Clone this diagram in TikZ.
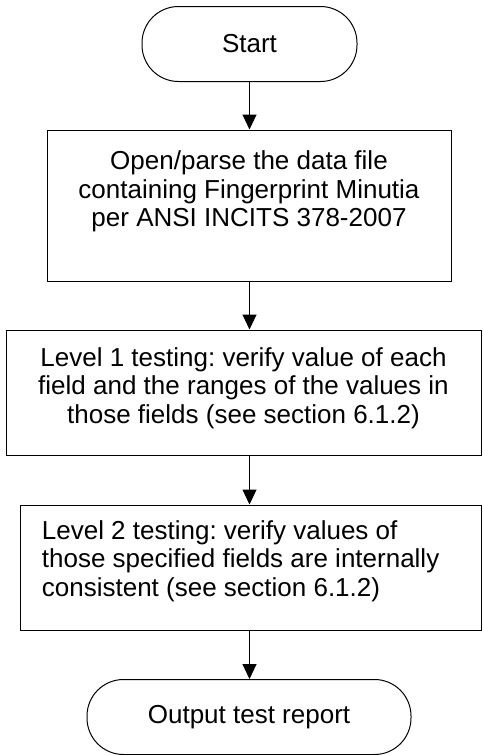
\documentclass[tikz,border=0pt]{standalone}
\usepackage{fontspec}
\setmainfont{Liberation Sans}
\usetikzlibrary{arrows.meta}
\frenchspacing
\begin{document}
\begin{tikzpicture}[x=1pt,y=-1pt,
  box/.style={draw,line width=1pt,inner sep=0pt},
  term/.style={draw,line width=1pt,rounded corners=36.5pt,inner sep=0pt,minimum height=75pt,font=\fontsize{26}{28.3}\selectfont},
  txt/.style={inner sep=0pt,font=\fontsize{26}{28.3}\selectfont},
  arr/.style={line width=1pt,-{Triangle[width=14pt,length=15pt]}}]
\useasboundingbox (0,0) rectangle (482,755);
\node[term,minimum width=215pt] (start) at (249.5,44) {Start};
\node[box,minimum width=404pt,minimum height=151pt] (b1) at (249,205.5) {};
\node[txt,align=center] (t1) at (249,191.5) {Open/parse the data file\\containing Fingerprint Minutia\\per ANSI INCITS 378-2007};
\node[box,minimum width=475pt,minimum height=125pt] (b2) at (243.5,392.5) {};
\node[txt,align=center] (t2) at (243.5,388.2) {Level 1 testing: verify value of each\\field and the ranges of the values in\\those fields (see section 6.1.2)};
\node[box,minimum width=461pt,minimum height=125pt] (b3) at (250.5,567.5) {};
\node[txt,align=left,anchor=west] (t3) at (41.7,561) {Level 2 testing: verify values of\\those specified fields are internally\\consistent (see section 6.1.2)};
\node[term,minimum width=324pt] (out) at (249,717) {Output test report};
\draw[arr] (start.south) -- (start.south |- b1.north);
\draw[arr] (start.south |- b1.south) -- (start.south |- b2.north);
\draw[arr] (start.south |- b2.south) -- (start.south |- b3.north);
\draw[arr] (start.south |- b3.south) -- (start.south |- out.north);
\end{tikzpicture}
\end{document}
